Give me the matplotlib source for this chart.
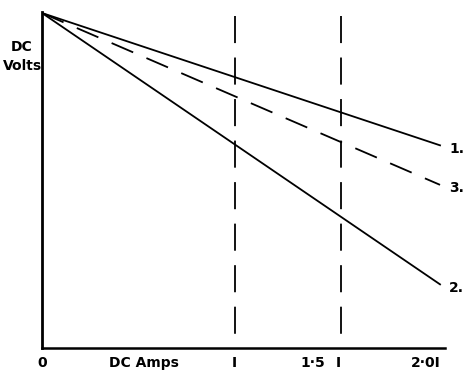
import matplotlib.pyplot as plt
import numpy as np

# current as multiple of rated I, voltage as fraction of no-load
amps = [0.0, 2.0]
volts_1 = [1.0, 0.605]
volts_2 = [1.0, 0.19]
volts_3 = [1.0, 0.487]
markers_x = [0.97, 1.5]
tick_text = [(0.0, "0"), (0.51, "DC Amps"), (0.965, "I"), (1.36, "1·5"), (1.49, "I"), (1.93, "2·0I")]

fig = plt.figure(figsize=(4.75, 3.78), dpi=100)
ax = fig.add_axes([42 / 475, 30 / 378, 403 / 475, 336 / 378])
ax.set_xlim(0, 2.025)
ax.set_ylim(0, 1.003)

ax.plot(amps, volts_1, color="black", lw=1.3)
ax.plot(amps, volts_2, color="black", lw=1.3)
ax.plot(amps, volts_3, color="black", lw=1.3, dashes=(13, 8))
# draw top-down so the dash pattern starts at the top
for xv in markers_x:
    ax.plot([xv, xv], [0.99, 0.005], color="black", lw=1.3, dashes=(15, 8))

for s in ["top", "right"]:
    ax.spines[s].set_visible(False)
ax.spines["left"].set_linewidth(2)
ax.spines["bottom"].set_linewidth(1.8)
ax.set_xticks([])
ax.set_yticks([])

font = dict(fontsize=10, fontweight="bold", family="DejaVu Sans")
for xv, t in tick_text:
    ax.text(xv, -0.045, t, ha="center", va="center", **font)

for yv, t in [(volts_1[-1], "1."), (volts_3[-1], "3."), (volts_2[-1], "2.")]:
    ax.text(2.045, yv - 0.01, t, ha="left", va="center", clip_on=False, **font)

ax.text(-0.1, 0.87, "DC\nVolts", ha="center", va="center", linespacing=1.4, **font)

fig.savefig("out.png", dpi=100)
